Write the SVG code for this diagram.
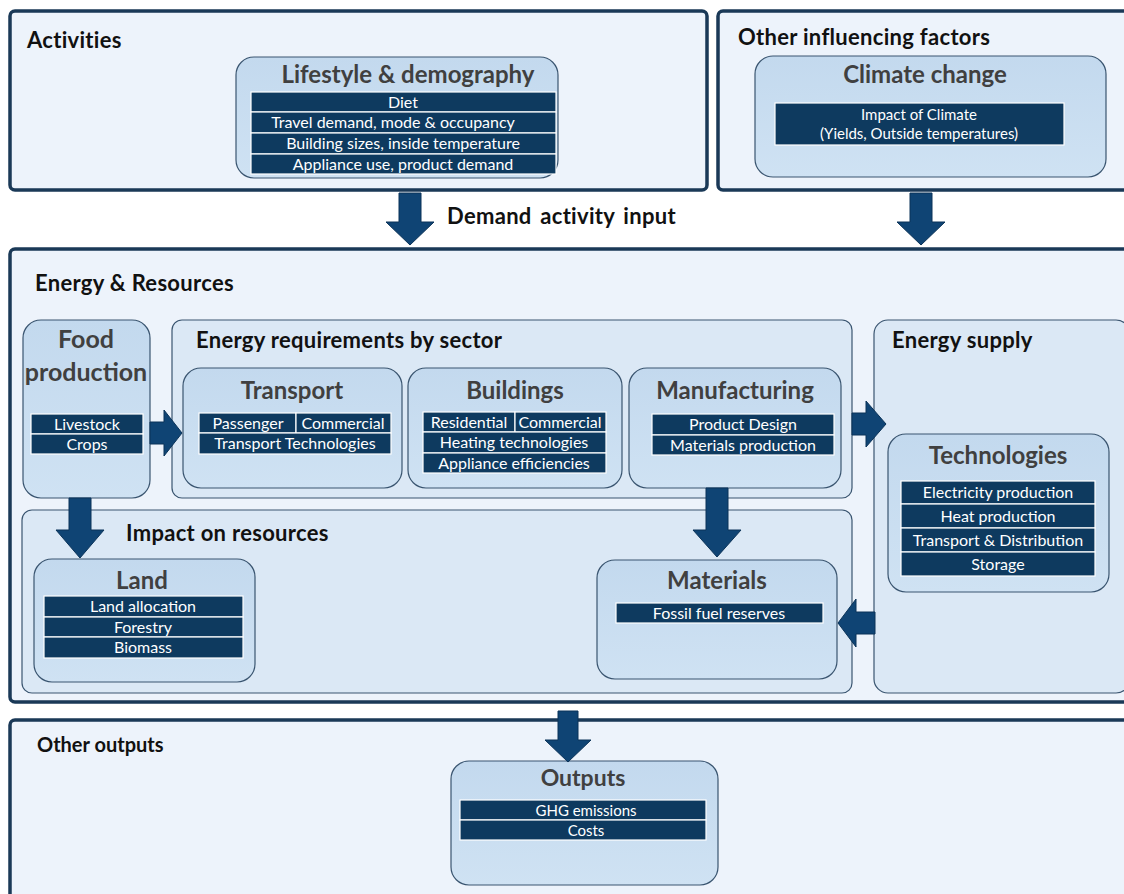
<svg xmlns="http://www.w3.org/2000/svg" width="1124" height="894" viewBox="0 0 1124 894">
<defs>
<linearGradient id="gSub" x1="0" y1="0" x2="0" y2="1">
<stop offset="0" stop-color="#c3d9ee"/>
<stop offset="1" stop-color="#cfe2f3"/>
</linearGradient>
<style>
.outer{fill:#edf3fb;stroke:#1a3957;stroke-width:3.5}
.mid{fill:#dbe8f5;stroke:#3a5570;stroke-width:1.2}
.sub{fill:url(#gSub);stroke:#3a5570;stroke-width:1.2}
.row{fill:#0e3a5f;stroke:#ffffff;stroke-width:1.2}
.sec{font-family:Lato,"Open Sans",sans-serif;font-weight:bold;font-size:22px;letter-spacing:0.3px;fill:#111}
.ttl{font-family:Lato,"Open Sans",sans-serif;font-weight:bold;font-size:24px;fill:#404040;text-anchor:middle}
.rt{font-family:Lato,"Open Sans",sans-serif;font-size:16px;fill:#fff;text-anchor:middle}
.arr{fill:#0f4474;stroke:#0b3358;stroke-width:1}
</style>
</defs>
<rect width="1124" height="894" fill="#ffffff"/>

<g id="activities">
<rect class="outer" x="10" y="11" width="697" height="179" rx="5"/>
<text class="sec" x="27" y="48">Activities</text>
</g>
<g id="lifestyle">
<rect class="sub" x="236" y="57" width="322" height="121" rx="18"/>
<text class="ttl" x="408" y="83">Lifestyle &amp; demography</text>
<rect class="row" x="251" y="92" width="305" height="20"/>
<text class="rt" x="403" y="107.5">Diet</text>
<rect class="row" x="251" y="112" width="305" height="21"/>
<text class="rt" x="393" y="128">Travel demand, mode &amp; occupancy</text>
<rect class="row" x="251" y="133" width="305" height="21"/>
<text class="rt" x="403" y="149">Building sizes, inside temperature</text>
<rect class="row" x="251" y="154" width="305" height="20"/>
<text class="rt" x="403" y="169.5">Appliance use, product demand</text>
</g>

<g id="other-factors">
<rect class="outer" x="718" y="11" width="410" height="179" rx="5"/>
<text class="sec" x="738" y="45">Other influencing factors</text>
</g>
<g id="climate">
<rect class="sub" x="755" y="56" width="351" height="121" rx="18"/>
<text class="ttl" x="925" y="83">Climate change</text>
<rect class="row" x="775" y="103" width="289" height="42"/>
<text class="rt" x="919" y="120" style="font-size:15px">Impact of Climate</text>
<text class="rt" x="919" y="139" style="font-size:15px">(Yields, Outside temperatures)</text>
</g>

<text class="sec" x="447" y="224" style="word-spacing:3px">Demand activity input</text>

<g id="energy-resources">
<rect class="outer" x="10" y="249" width="1118" height="453" rx="5"/>
<text class="sec" x="35" y="291">Energy &amp; Resources</text>
</g>

<g id="food">
<rect class="sub" x="23" y="320" width="127" height="178" rx="18"/>
<text class="ttl" x="86" y="348" style="font-size:25px">Food</text>
<text class="ttl" x="86" y="381" style="font-size:25px">production</text>
<rect class="row" x="31" y="414" width="112" height="20"/>
<text class="rt" x="87" y="429.5">Livestock</text>
<rect class="row" x="31" y="434" width="112" height="20"/>
<text class="rt" x="87" y="449.5">Crops</text>
</g>

<g id="energy-req">
<rect class="mid" x="172" y="320" width="680" height="178" rx="10"/>
<text class="sec" x="196" y="348">Energy requirements by sector</text>
</g>

<g id="transport">
<rect class="sub" x="183" y="368" width="219" height="120" rx="18"/>
<text class="ttl" x="292" y="399">Transport</text>
<rect class="row" x="199" y="413" width="97" height="20"/>
<text class="rt" x="248" y="428.5">Passenger</text>
<rect class="row" x="296" y="413" width="95" height="20"/>
<text class="rt" x="343" y="428.5">Commercial</text>
<rect class="row" x="199" y="433" width="192" height="21"/>
<text class="rt" x="295" y="449">Transport Technologies</text>
</g>

<g id="buildings">
<rect class="sub" x="408" y="368" width="214" height="120" rx="18"/>
<text class="ttl" x="515" y="399">Buildings</text>
<rect class="row" x="423" y="412" width="92" height="20"/>
<text class="rt" x="469" y="427.5">Residential</text>
<rect class="row" x="515" y="412" width="91" height="20"/>
<text class="rt" x="560" y="427.5">Commercial</text>
<rect class="row" x="423" y="432" width="183" height="21"/>
<text class="rt" x="514" y="448">Heating technologies</text>
<rect class="row" x="423" y="453" width="183" height="20"/>
<text class="rt" x="514" y="468.5">Appliance efficiencies</text>
</g>

<g id="manufacturing">
<rect class="sub" x="629" y="368" width="212" height="120" rx="18"/>
<text class="ttl" x="735" y="399">Manufacturing</text>
<rect class="row" x="652" y="414" width="182" height="21"/>
<text class="rt" x="743" y="430">Product Design</text>
<rect class="row" x="652" y="435" width="182" height="20"/>
<text class="rt" x="743" y="450.5">Materials production</text>
</g>

<g id="energy-supply">
<rect class="mid" x="874" y="320" width="256" height="373" rx="14"/>
<text class="sec" x="892" y="348">Energy supply</text>
</g>

<g id="technologies">
<rect class="sub" x="888" y="434" width="221" height="158" rx="18"/>
<text class="ttl" x="998" y="464">Technologies</text>
<rect class="row" x="901" y="481" width="194" height="23"/>
<text class="rt" x="998" y="498">Electricity production</text>
<rect class="row" x="901" y="504" width="194" height="24"/>
<text class="rt" x="998" y="522">Heat production</text>
<rect class="row" x="901" y="528" width="194" height="24"/>
<text class="rt" x="998" y="546">Transport &amp; Distribution</text>
<rect class="row" x="901" y="552" width="194" height="24"/>
<text class="rt" x="998" y="570">Storage</text>
</g>

<g id="impact">
<rect class="mid" x="22" y="510" width="830" height="183" rx="10"/>
<text class="sec" x="126" y="541">Impact on resources</text>
</g>

<g id="land">
<rect class="sub" x="34" y="559" width="221" height="123" rx="18"/>
<text class="ttl" x="142" y="589">Land</text>
<rect class="row" x="44" y="596" width="199" height="21"/>
<text class="rt" x="143" y="612">Land allocation</text>
<rect class="row" x="44" y="617" width="199" height="20"/>
<text class="rt" x="143" y="632.5">Forestry</text>
<rect class="row" x="44" y="637" width="199" height="21"/>
<text class="rt" x="143" y="653">Biomass</text>
</g>

<g id="materials">
<rect class="sub" x="597" y="560" width="240" height="119" rx="18"/>
<text class="ttl" x="717" y="589">Materials</text>
<rect class="row" x="616" y="603" width="207" height="20"/>
<text class="rt" x="719" y="618.5">Fossil fuel reserves</text>
</g>

<g id="other-outputs">
<rect class="outer" x="10" y="720" width="1118" height="180" rx="5"/>
<text class="sec" x="37" y="752" style="font-size:20px;letter-spacing:0">Other outputs</text>
</g>

<g id="outputs">
<rect class="sub" x="451" y="761" width="267" height="124" rx="18"/>
<text class="ttl" x="583" y="786" style="font-size:23px">Outputs</text>
<rect class="row" x="460" y="800" width="246" height="20"/>
<text class="rt" x="586" y="815.5" style="font-size:15px">GHG emissions</text>
<rect class="row" x="460" y="820" width="246" height="20"/>
<text class="rt" x="586" y="835.5" style="font-size:15px">Costs</text>
</g>

<g id="connectors">
<polygon class="arr" points="399,193 421,193 421,222 434,222 410,245 386,222 399,222"/>
<polygon class="arr" points="910,193 932,193 932,222 945,222 921,245 897,222 910,222"/>
<polygon class="arr" points="150,422 164,422 164,410 182,433 164,456 164,444 150,444"/>
<polygon class="arr" points="852,413 866,413 866,401 886,424 866,447 866,435 852,435"/>
<polygon class="arr" points="69,498 91,498 91,530 104,530 80,558 56,530 69,530"/>
<polygon class="arr" points="706,488 728,488 728,530 741,530 717,557 693,530 706,530"/>
<polygon class="arr" points="875,612 856,612 856,599 838,623 856,647 856,634 875,634"/>
<polygon class="arr" points="558,711 578,711 578,740 591,740 568,762 545,740 558,740"/>
</g>
</svg>
